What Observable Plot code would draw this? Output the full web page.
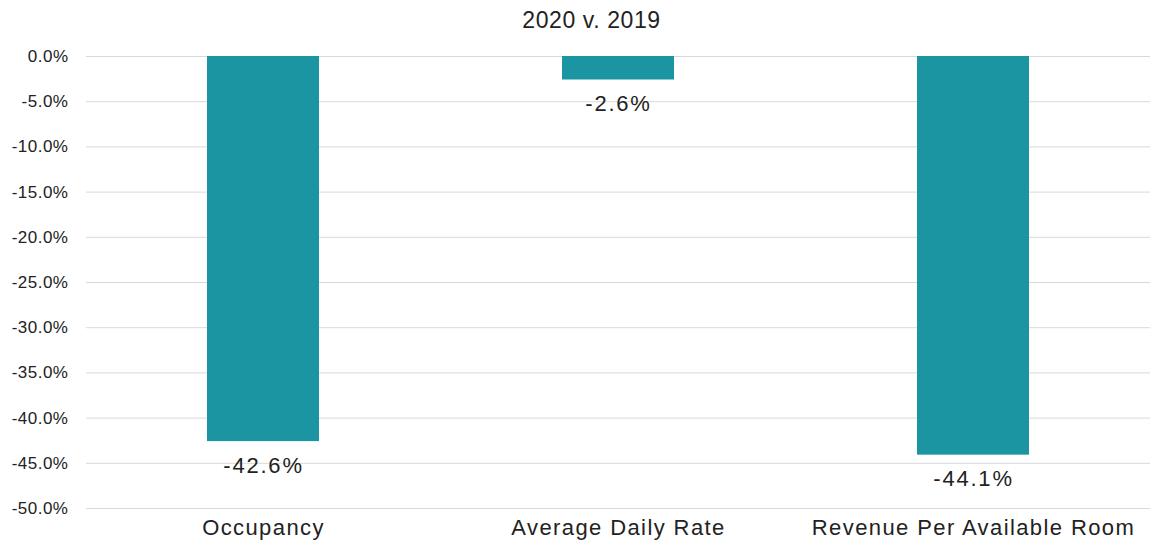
<!DOCTYPE html>
<html>
<head>
<meta charset="utf-8">
<script src="https://cdn.jsdelivr.net/npm/d3@7"></script>
<script src="https://cdn.jsdelivr.net/npm/@observablehq/plot@0.6"></script>
<style>
  body { margin: 0; background: #fff; font-family: "Liberation Sans", Arial, sans-serif; }
  #title { height: 40px; line-height: 40px; text-align: center; padding-left: 30px; font-size: 23px; color: #222; letter-spacing: 0.6px; }
  svg text { font-family: "Liberation Sans", Arial, sans-serif; }
  svg g[aria-label="x-axis tick label"] text { letter-spacing: 1.4px; }
  svg g[aria-label="y-axis tick label"] text { letter-spacing: 0.5px; }
  svg g[aria-label="text"] text { letter-spacing: 1.8px; }
</style>
</head>
<body>
<div id="title">2020 v. 2019</div>
<div id="chart"></div>
<script>
const categories = ["Occupancy", "Average Daily Rate", "Revenue Per Available Room"];
const values = [-42.6, -2.6, -44.1];
const yTicks = [0, -5, -10, -15, -20, -25, -30, -35, -40, -45, -50];

const data = categories.map((c, i) => ({cat: c, value: values[i]}));
const pct = d => d.toFixed(1) + "%";

const chart = Plot.plot({
  width: 1153,
  height: 506,
  marginTop: 16,
  marginBottom: 38,
  marginLeft: 86,
  marginRight: 3,
  style: {background: "#fff", color: "#222"},
  x: {domain: categories, paddingInner: 0.684, paddingOuter: 0.34, label: null},
  y: {domain: [-50, 0], label: null},
  marks: [
    Plot.ruleY(yTicks, {stroke: "#d9d9d9", strokeWidth: 1}),
    Plot.barY(data, {x: "cat", y1: 0, y2: "value", fill: "#1b95a1"}),
    Plot.text(data, {x: "cat", y: "value", text: d => pct(d.value), dy: 24, fontSize: 22, fill: "#222"}),
    Plot.axisY({ticks: yTicks, tickFormat: pct, tickSize: 0, tickPadding: 18, fontSize: 17, fill: "#222"}),
    Plot.axisX({tickSize: 0, tickPadding: 11, fontSize: 22, fill: "#222"})
  ]
});
document.getElementById("chart").appendChild(chart);
</script>
</body>
</html>
